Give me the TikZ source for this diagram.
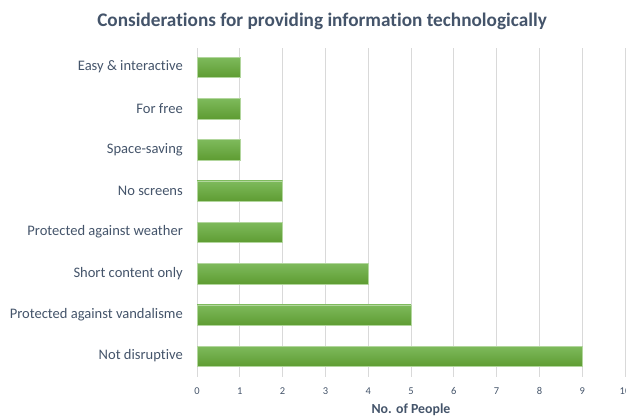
\documentclass[tikz,border=0pt]{standalone}
\usepackage{fontspec}
\setmainfont{Carlito}[Ligatures=NoCommon]
\usetikzlibrary{calc}
\definecolor{txtgray}{RGB}{68,84,106}
\definecolor{gridgray}{RGB}{217,217,217}
\definecolor{bartop}{RGB}{126,186,92}
\definecolor{barbot}{RGB}{94,156,50}

\begin{document}
\begin{tikzpicture}[x=1bp, y=-1bp,
    cat/.style={anchor=east, text=txtgray, font=\fontsize{14.6}{17}\selectfont, inner sep=0pt},
    tick/.style={text=txtgray, font=\fontsize{10.5}{12}\selectfont, inner sep=0pt},
    heading/.style={text=txtgray, font=\bfseries\fontsize{19.3}{22}\selectfont, inner sep=0pt},
    bar/.style={top color=bartop, bottom color=barbot, draw=bartop!60!white, line width=0.4bp}]
        \useasboundingbox (0,0) rectangle (626,415);
        \node[heading] (title) at (322,21) {Considerations for providing information technologically};
        \foreach \k in {0, ..., 10} {
          \draw[gridgray, line width=0.8bp] (197+42.8*\k, 48) -- (197+42.8*\k, 377);
          \node[tick] (tick\k) at (197+42.8*\k, 391) {\k};
        }
        \foreach \lab/\val [count=\i from 0] in {Easy \& interactive/1, For free/1, Space-saving/1,
            No screens/2, Protected against weather/2, Short content only/4,
            Protected against vandalisme/5, Not disruptive/9} {
          \node[cat] (lbl\i) at (183, 67+41.29*\i) {\lab};
          \shade[bar] (197, 57+41.29*\i) rectangle (197+42.8*\val, 77.5+41.29*\i);
        }
        \node[heading, font=\bfseries\fontsize{13.9}{16}\selectfont] (xtitle) at (411,410) {No. of People};
      \end{tikzpicture}
\end{document}
